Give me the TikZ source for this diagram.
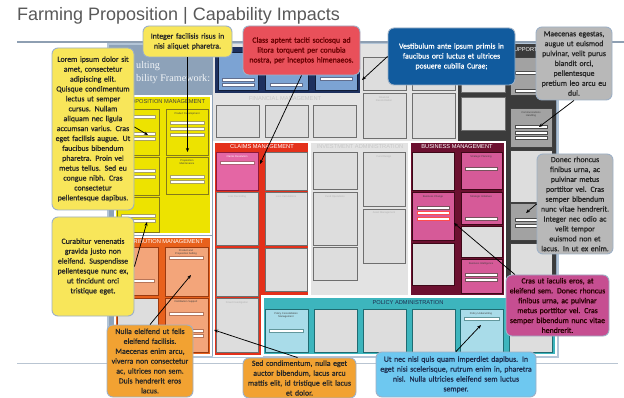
\documentclass[tikz,border=0pt]{standalone}
\usepackage{fontspec}
\setmainfont{Carlito}
\newfontfamily\notefont{Carlito}[FakeBold=0.9]
\newfontfamily\headfont{Liberation Sans}
\newfontfamily\serifhead{Liberation Serif}
\usepackage{tikz}
\usepackage{xcolor}
\usetikzlibrary{arrows.meta,calc}

\definecolor{titlegray}{HTML}{595959}
\definecolor{titlerule}{HTML}{8E9FB2}
\definecolor{footrule}{HTML}{B9C5D2}
\definecolor{frameblue}{HTML}{8DA2B9}
\definecolor{framerim}{HTML}{B3C5D7}
\definecolor{areagray}{HTML}{E3E3E3}
\definecolor{boxgray}{HTML}{DDDDDD}
\definecolor{boxline}{HTML}{6E6E6E}
\definecolor{navyband}{HTML}{1D305E}
\definecolor{navylight}{HTML}{7CA3D3}
\definecolor{propyellow}{HTML}{EDE300}
\definecolor{propline}{HTML}{857A1A}
\definecolor{distorange}{HTML}{E8611C}
\definecolor{distlight}{HTML}{F3A57A}
\definecolor{distline}{HTML}{9A3A10}
\definecolor{claimred}{HTML}{E4301A}
\definecolor{claimpink}{HTML}{E466A4}
\definecolor{claimline}{HTML}{8E1A3C}
\definecolor{busmaroon}{HTML}{6C1030}
\definecolor{buspink}{HTML}{D65A98}
\definecolor{busline}{HTML}{3E0818}
\definecolor{supportdark}{HTML}{3B3B3B}
\definecolor{supportgray}{HTML}{A2A2A2}
\definecolor{polteal}{HTML}{3DB5BD}
\definecolor{pollight}{HTML}{A9DCE9}
\definecolor{polline}{HTML}{1F6B72}
\definecolor{polnavy}{HTML}{1E2E50}
\definecolor{noterim}{HTML}{9DB0C6}
\definecolor{noteyellow}{HTML}{F8E65A}
\definecolor{notered}{HTML}{E9505A}
\definecolor{noteblue}{HTML}{115B9E}
\definecolor{notegray}{HTML}{B8B8B8}
\definecolor{notemagenta}{HTML}{C64E91}
\definecolor{notesky}{HTML}{6EC8F0}
\definecolor{noteorange}{HTML}{F2A232}

\tikzset{
  note/.style={draw=noterim, line width=0.9pt, rounded corners=6pt, inner sep=0pt,
    align=center, font=\notefont\fontsize{7.8}{9.9}\selectfont},
  region/.style={draw=white, line width=1.2pt},
  cbox/.style={draw=#1, line width=0.8pt},
  bar/.style={draw=#1!70!white, line width=0.3pt, fill=white},
  sechead/.style={font=\headfont\fontsize{5.7}{6}\selectfont, inner sep=0pt},
  tag/.style={font=\headfont\fontsize{2.6}{3}\selectfont, inner sep=0pt, align=center, anchor=north},
  link/.style={-{Stealth[length=4pt,width=3.2pt]}, line width=0.75pt, black},
}

\begin{document}
\begin{tikzpicture}[x=1pt,y=-1pt]
\useasboundingbox (0,0) rectangle (624,398);
\fill[white] (0,0) rectangle (624,398);

\node[anchor=base west, inner sep=0pt, text=titlegray, font=\headfont\fontsize{18}{18}\selectfont] (title) at (17,21) {Farming Proposition | Capability Impacts};
\draw[titlerule, line width=1.1pt] (17,42) -- (624,42);
\draw[footrule, line width=1pt] (17,363) -- (618,363);

% framework panel
\filldraw[fill=frameblue, draw=framerim, line width=2pt] (108,44) rectangle (558,357);
\node[anchor=north west, inner sep=0pt, align=left, text=white!88!frameblue, font=\serifhead\fontsize{10.2}{13}\selectfont] (fwname) at (136,61) {ulting\\bility Framework:};

\fill[areagray] (213,44) rectangle (458,141);
\fill[navyband] (215,47) rectangle (360,93);
\fill[supportdark] (458,44) rectangle (556,142);
\fill[supportdark] (505,142) rectangle (556,296);
\filldraw[region, fill=propyellow] (115,96) rectangle (211,234);
\filldraw[region, fill=distorange] (115,237) rectangle (211,355);
\filldraw[region, fill=claimred] (214,142) -- (309,142) -- (309,296) -- (262,296) -- (262,356) -- (214,356) -- cycle;
\filldraw[region, fill=areagray] (310,142) rectangle (409,296);
\filldraw[region, fill=busmaroon] (410,142) rectangle (505,296);
\filldraw[region, fill=polteal] (263,297) rectangle (556,355);

\node[sechead, text=black!75] (hProp) at (164,102) {PROPOSITION MANAGEMENT};
\node[sechead, text=white] (hDist) at (162,242) {DISTRIBUTION MANAGEMENT};
\node[sechead, text=black!22] (hFin) at (285,99) {FINANCIAL MANAGEMENT};
\node[sechead, text=white] (hClaims) at (262,147) {CLAIMS MANAGEMENT};
\node[sechead, text=black!22] (hInvest) at (360,147) {INVESTMENT ADMINISTRATION};
\node[sechead, text=white] (hBus) at (457,147) {BUSINESS MANAGEMENT};
\node[sechead, text=polnavy] (hPol) at (408,303) {POLICY ADMINISTRATION};
\node[sechead, text=white, anchor=west] (hSupp) at (510,50) {SUPPORT};

% capability boxes
\foreach \a/\b in {218/258,265/308,315/357}
  \filldraw[cbox=navyband!60!black, fill=navylight] (\a,52) rectangle (\b,90);
\foreach \a in {216,265,313}
  \filldraw[cbox=boxline, fill=boxgray] (\a,105) rectangle (\a+43,137);
\foreach \a in {363,412} {
  \filldraw[cbox=boxline, fill=boxgray] (\a,57) rectangle (\a+43,90);
  \filldraw[cbox=boxline, fill=boxgray] (\a,93) rectangle (\a+43,138);
}
\filldraw[cbox=boxline, fill=boxgray] (461,50) rectangle (505,92);
\filldraw[cbox=boxline, fill=boxgray] (461,97) rectangle (505,130);

\foreach \a/\b/\c/\d in {117/109/159/155,117/157/159/195,117/197/159/232,166/109/208/155,166/157/208/194}
  \filldraw[cbox=propline, fill=propyellow] (\a,\b) rectangle (\c,\d);
\foreach \a/\b/\c/\d in {117/247/158/295,165/247/208/296,165/298/208/352}
  \filldraw[cbox=distline, fill=distlight] (\a,\b) rectangle (\c,\d);
\filldraw[cbox=distline, fill=boxgray] (117,298) rectangle (158,352);

\filldraw[cbox=claimline, fill=claimpink] (216,152) rectangle (258,190);
\foreach \a/\b/\c/\d in {216/192/258/245,216/248/258/296,216/298/258/352,265/152/307/190,265/192/307/245,265/248/307/291}
  \filldraw[cbox=boxline, fill=boxgray] (\a,\b) rectangle (\c,\d);
\foreach \a/\b/\c/\d in {313/152/357/189,313/192/357/245,313/247/357/280,363/152/405/206,363/209/405/263}
  \filldraw[cbox=boxline, fill=boxgray] (\a,\b) rectangle (\c,\d);

\foreach \a/\b/\c/\d in {412/152/454/190,412/243/454/285,461/226/502/257}
  \filldraw[cbox=busline, fill=boxgray] (\a,\b) rectangle (\c,\d);
\foreach \a/\b/\c/\d in {412/192/454/240,461/152/502/189,461/192/502/224,461/259/502/293}
  \filldraw[cbox=busline, fill=buspink] (\a,\b) rectangle (\c,\d);

\foreach \b/\d in {57/95,108/147,203/240}
  \filldraw[cbox=black!75, fill=supportgray] (510,\b) rectangle (552,\d);
\foreach \b/\d in {150/202,243/283}
  \filldraw[cbox=black!75, fill=boxgray] (510,\b) rectangle (552,\d);

\foreach \a/\c in {265/pollight,314/boxgray,363/boxgray,412/boxgray,460/pollight,509/boxgray}
  \filldraw[cbox=polline, fill=\c] (\a,309) rectangle (\a+43,352);

% entry bars
\foreach \x/\y in {238/80,238/85,286/85,336/79}
  \draw[bar=navyband] (\x-16,\y-1.5) rectangle (\x+16,\y+1.5);
\foreach \x/\y in {138/117,138/134,138/139,187/123,187/129,187/135,187/177,187/182,138/171,138/177,138/216,138/221}
  \draw[bar=propline] (\x-17,\y-1.5) rectangle (\x+17,\y+1.5);
\foreach \x/\y in {137/281,186/258,186/314,186/331,186/336}
  \draw[bar=distline] (\x-17,\y-1.5) rectangle (\x+17,\y+1.5);
\draw[bar=claimline] (220,161.5) rectangle (254,164.5);
\foreach \x/\y in {481/169,481/219,481/275,481/280,433/208}
  \draw[bar=busline] (\x-16,\y-1.5) rectangle (\x+16,\y+1.5);
\foreach \y in {213,219}
  \draw[bar=red] (417,\y-1.5) rectangle (449,\y+1.5);
\foreach \y in {73,91,127,133,138,220,226}
  \draw[bar=black] (515,\y-1.5) rectangle (547,\y+1.5);
\draw[bar=polline] (269,329.5) rectangle (303,332.5);
\draw[bar=polline] (464,317.5) rectangle (499,320.5);

% box names
\foreach \x/\y/\t [count=\i] in {187/112/{Product Development},187/159/{Proposition\\Maintenance},
    186/249/{Product and\\Proposition Selling},186/300/{Distribution Support},
    481/155/{Strategic Planning},481/195/{Strategic Initiatives},481/262/{Business Intelligence},
    433/195/{Business Change},481/312/{Policy Underwriting},286/312/{Policy Consolidation\\Management},
    531/111/{Communications\\Handling}}
  \node[tag, text=black!75] (tagD\i) at (\x,\y) {\t};
\node[tag, text=white] (tagClaims) at (237,155) {Claims Resolution};
\foreach \x/\y/\t [count=\i] in {384/96/{Financial\\Reconciliation},384/155/{Fund Design},384/212/{Asset Management},
    335/195/{Fund Operations},237/195/{Loss Recording},286/195/{Loss Calculations},237/301/{Fraud Investigation}}
  \node[tag, text=black!30] (tagL\i) at (\x,\y) {\t};

% callouts
\node[note, fill=noteyellow, text=black!85, minimum width=82pt, minimum height=162pt, text width=81pt] (lorem) at (93,129)
  {Lorem ipsum dolor sit\\amet, consectetur\\adipiscing elit.\\Quisque condimentum\\lectus ut semper\\cursus. Nullam\\aliquam nec ligula\\accumsan varius. Cras\\eget facilisis augue. Ut\\faucibus bibendum\\pharetra. Proin vel\\metus tellus. Sed eu\\congue nibh. Cras\\consectetur\\pellentesque dapibus.};
\node[note, fill=noteyellow, text=black!85, minimum width=89pt, minimum height=31pt, text width=88pt] (integer) at (187.5,41.5)
  {Integer facilisis risus in\\nisi aliquet pharetra.};
\node[note, fill=notered, text=red!40!black, minimum width=117pt, minimum height=49pt, text width=116pt] (klass) at (301.5,50.5)
  {Class aptent taciti sociosqu ad\\litora torquent per conubia\\nostra, per inceptos himenaeos.};
\node[note, fill=noteblue, text=white, minimum width=127pt, minimum height=57pt, text width=126pt] (vest) at (451.5,56.5)
  {Vestibulum ante ipsum primis in\\faucibus orci luctus et ultrices\\posuere cubilia Curae;};
\node[note, fill=notegray, text=black!85, minimum width=76pt, minimum height=73pt, text width=76pt] (maec) at (574,63.5)
  {Maecenas egestas,\\augue ut euismod\\pulvinar, velit purus\\blandit orci,\\pellentesque\\pretium leo arcu eu\\dui.};
\node[note, fill=notegray, text=black!85, minimum width=76pt, minimum height=100pt, text width=76pt] (donec) at (575,204)
  {Donec rhoncus\\finibus urna, ac\\pulvinar metus\\porttitor vel. Cras\\semper bibendum\\nunc vitae hendrerit.\\Integer nec odio ac\\velit tempor\\euismod non et\\lacus. In ut ex enim.};
\node[note, fill=notemagenta, text=black!85!red, minimum width=103pt, minimum height=61pt, text width=102pt] (cras) at (557.5,305.5)
  {Cras ut iaculis eros, at\\eleifend sem. Donec rhoncus\\finibus urna, ac pulvinar\\metus porttitor vel. Cras\\semper bibendum nunc vitae\\hendrerit.};
\node[note, fill=notesky, text=polnavy, minimum width=160pt, minimum height=45pt, text width=159pt] (utnec) at (456,374.5)
  {Ut nec nisi quis quam imperdiet dapibus. In\\eget nisi scelerisque, rutrum enim in, pharetra\\nisl. Nulla ultricies eleifend sem luctus\\semper.};
\node[note, fill=noteorange, text=black!85, minimum width=113pt, minimum height=40pt, text width=112pt] (sed) at (299.5,378)
  {Sed condimentum, nulla eget\\auctor bibendum, lacus arcu\\mattis elit, id tristique elit lacus\\et dolor.};
\node[note, fill=noteorange, text=black!85, minimum width=86pt, minimum height=72pt, text width=86pt] (nulla) at (150,361)
  {Nulla eleifend ut felis\\eleifend facilisis.\\Maecenas enim arcu,\\viverra non consectetur\\ac, ultrices non sem.\\Duis hendrerit eros\\lacus.};
\node[note, fill=noteyellow, text=black!85, minimum width=82pt, minimum height=99pt, text width=81pt] (curab) at (93,266.5)
  {Curabitur venenatis\\gravida justo non\\eleifend. Suspendisse\\pellentesque nunc ex,\\ut tincidunt orci\\tristique eget.};

% pointers
\coordinate (pLorem) at (148,135);
\coordinate (pInteger) at (187.5,152);
\coordinate (pCurab) at (147,222);
\coordinate (pNulla) at (191,275);
\coordinate (pSed) at (214,330);
\coordinate (pKlass) at (260,164);
\coordinate (pVest) at (362,80);
\coordinate (pMaec) at (539,127);
\coordinate (pDonec) at (526,213);
\coordinate (pCras) at (454,223);
\coordinate (pUtnec) at (481,325);

\draw[link] ([yshift=2pt]lorem.east) -- (pLorem);
\draw[link] (integer.south) -- (pInteger);
\draw[link] (curab.east) -- (pCurab);
\draw[link] (nulla.north) -- (pNulla);
\draw[link] ([xshift=-2pt]sed.north) -- (pSed);
\draw[link] (klass.south) -- (pKlass);
\draw[link] (vest.west) -- (pVest);
\draw[link] (maec.south) -- (pMaec);
\draw[link] (donec.west) -- (pDonec);
\draw[link] ($(cras.north west)!0.09!(cras.north east)$) -- (pCras);
\draw[link] (utnec.north) -- (pUtnec);
\end{tikzpicture}
\end{document}
